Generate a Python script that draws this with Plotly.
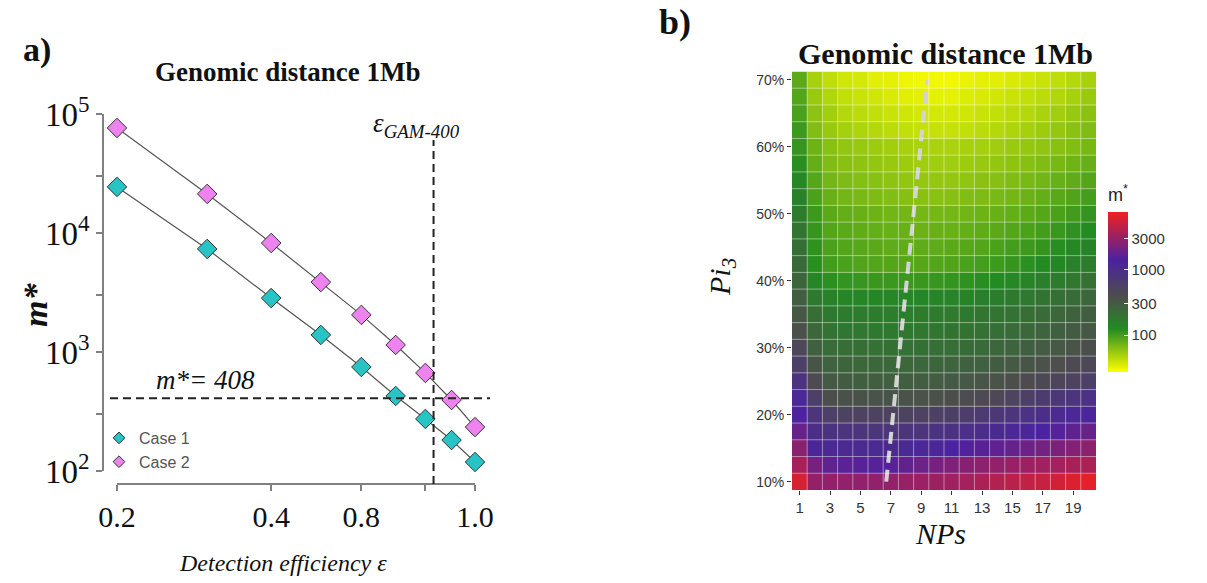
import math
import plotly.graph_objects as go

W, H = 1207, 583

# ---------------- Panel a data ----------------
efficiency = [0.2, 0.3, 0.4, 0.5, 0.6, 0.7, 0.8, 0.9, 1.0]
case1_m = [24400, 7350, 2840, 1390, 748, 427, 274, 182, 119]
case2_m = [76300, 21300, 8240, 3870, 2050, 1146, 667, 395, 234]
eps_gam = 0.83
m_star = 408

x_tickvals = [0.2, 0.4, 0.6, 0.8, 1.0]
x_ticktext = ["0.2", "0.4", "0.8", "", "1.0"]
y_tickvals = [100, 300, 1000, 3000, 10000, 30000, 100000]
y_ticktext = ["10<sup>2</sup>", "", "10<sup>3</sup>", "", "10<sup>4</sup>", "", "10<sup>5</sup>"]

# ---------------- Panel b data ----------------
nps = list(range(1, 21))
pi3 = [0.100, 0.125, 0.150, 0.175, 0.200, 0.225, 0.250, 0.275, 0.300, 0.325,
       0.350, 0.375, 0.400, 0.425, 0.450, 0.475, 0.500, 0.525, 0.550, 0.575,
       0.600, 0.625, 0.650, 0.675, 0.700]
m_grid = [
    [6000, 3000, 2950, 2900, 2900, 2900, 2950, 3050, 3150, 3250, 3350, 3500, 3800, 4100, 4400, 4700, 5000, 5600, 6200, 6800],
    [3600, 2200, 1750, 1650, 1600, 1580, 1600, 1800, 2000, 2200, 2400, 2600, 2750, 2900, 3050, 3200, 3350, 3500, 3650, 3800],
    [2700, 1250, 1150, 1120, 1100, 1100, 1110, 1150, 1200, 1280, 1380, 1500, 1620, 1750, 1880, 2000, 2150, 2350, 2550, 2750],
    [1900, 1000, 850, 820, 800, 790, 790, 800, 820, 850, 900, 960, 1030, 1110, 1200, 1300, 1420, 1560, 1720, 1900],
    [1450, 800, 580, 550, 535, 528, 527, 532, 545, 565, 595, 635, 685, 745, 815, 895, 990, 1100, 1200, 1300],
    [1200, 600, 390, 370, 360, 355, 354, 357, 364, 376, 392, 413, 440, 472, 520, 580, 650, 730, 820, 920],
    [850, 420, 315, 300, 292, 288, 287, 289, 294, 302, 313, 327, 344, 365, 390, 420, 455, 495, 540, 590],
    [600, 340, 265, 253, 247, 244, 243, 245, 249, 255, 263, 273, 285, 300, 318, 340, 365, 393, 425, 460],
    [480, 275, 225, 215, 210, 207, 206, 207, 210, 214, 220, 228, 238, 250, 265, 283, 303, 326, 352, 380],
    [375, 245, 200, 192, 187, 184, 183, 184, 186, 190, 195, 201, 209, 219, 231, 246, 263, 283, 306, 332],
    [330, 215, 180, 172, 167, 165, 164, 164, 166, 169, 173, 178, 185, 193, 203, 215, 230, 247, 267, 290],
    [290, 180, 150, 143, 139, 137, 136, 136, 137, 140, 144, 149, 155, 162, 171, 182, 195, 210, 228, 250],
    [255, 140, 118, 112, 109, 107, 106, 106, 107, 109, 112, 116, 121, 127, 135, 144, 155, 168, 183, 200],
    [235, 120, 100, 95, 92, 90, 89, 88, 88, 90, 92, 95, 99, 104, 110, 118, 127, 138, 152, 168],
    [210, 115, 95, 90, 87, 85, 83, 82, 82, 83, 85, 87, 90, 94, 99, 105, 112, 121, 132, 145],
    [190, 110, 90, 85, 82, 80, 78, 77, 76, 77, 78, 80, 82, 85, 89, 94, 100, 107, 116, 127],
    [170, 105, 85, 80, 77, 75, 73, 72, 71, 71, 72, 73, 75, 77, 80, 84, 88, 94, 102, 112],
    [150, 95, 78, 72, 69, 67, 65, 63, 62, 62, 63, 65, 67, 69, 72, 76, 80, 86, 92, 99],
    [135, 88, 72, 67, 64, 62, 60, 58, 57, 57, 57, 59, 61, 63, 66, 69, 73, 78, 83, 89],
    [120, 80, 66, 62, 60, 58, 56, 54, 53, 53, 53, 54, 56, 58, 60, 63, 66, 70, 74, 79],
    [110, 75, 62, 58, 56, 54, 52, 50, 49, 49, 49, 50, 51, 53, 55, 57, 59, 62, 65, 70],
    [105, 65, 56, 51, 48, 46, 44, 42, 41, 41, 41, 42, 44, 46, 48, 51, 54, 57, 61, 66],
    [95, 60, 52, 46, 44, 42, 40, 38, 37, 37, 37, 38, 40, 42, 44, 46, 49, 52, 56, 61],
    [90, 55, 47, 42, 40, 38, 36, 34, 33, 33, 33, 35, 36, 38, 40, 42, 44, 47, 50, 55],
    [85, 50, 43, 38, 37, 34, 33, 31, 30, 30, 30, 32, 33, 34, 36, 38, 40, 43, 46, 50],
]
pi3_ticks = [0.1, 0.2, 0.3, 0.4, 0.5, 0.6, 0.7]
pi3_ticktext = ["10%", "20%", "30%", "40%", "50%", "60%", "70%"]
nps_ticks = [1, 3, 5, 7, 9, 11, 13, 15, 17, 19]
cbar_vals = [100, 300, 1000, 3000]
m_min, m_max = 27.5, 7700
divider_nps = [6.7, 9.4]
divider_pi3 = [0.10, 0.70]


def px(x):
    return x / W


def py(y):
    return 1 - y / H


SERIF = "Liberation Serif, Times New Roman, serif"
SANS = "Liberation Sans, Arial, sans-serif"
CYAN = "#26C4C4"
VIOLET = "#EE82EE"

fig = go.Figure()

# Panel a traces
for name, vals, col in [("Case 1", case1_m, CYAN), ("Case 2", case2_m, VIOLET)]:
    fig.add_trace(go.Scatter(
        x=efficiency, y=vals, mode="lines+markers", name=name,
        line=dict(color="#555555", width=1.2),
        marker=dict(symbol="diamond", size=15, color=col,
                    line=dict(color="#333333", width=1)),
        cliponaxis=False, showlegend=False, xaxis="x", yaxis="y"))
    fig.add_trace(go.Scatter(
        x=[None], y=[None], mode="markers", name=name,
        marker=dict(symbol="diamond", size=9, color=col,
                    line=dict(color="#333333", width=1)),
        showlegend=True, xaxis="x", yaxis="y"))

# Panel b heatmap
z_log = [[math.log10(v) for v in row] for row in m_grid]
colorscale = [
    [0.0, "#FFFF00"],
    [0.27, "#228B22"],
    [0.474, "#4D4D4D"],
    [0.70, "#4B22A0"],
    [1.0, "#F02020"],
]
fig.add_trace(go.Heatmap(
    x=nps, y=pi3, z=z_log, colorscale=colorscale,
    zmin=math.log10(m_min), zmax=math.log10(m_max),
    xaxis="x2", yaxis="y2",
    colorbar=dict(
        x=px(1108), xanchor="left", y=py(372), yanchor="bottom",
        len=188, lenmode="pixels", thickness=20, thicknessmode="pixels",
        outlinewidth=0, xpad=0, ypad=0,
        tickvals=[math.log10(v) for v in cbar_vals],
        ticktext=[str(v) for v in cbar_vals],
        ticks="inside", ticklen=4, tickcolor="white",
        tickfont=dict(family=SANS, size=15, color="#333333"),
        title=dict(text="m<sup>*</sup>", side="top",
                   font=dict(family=SANS, size=18, color="#222222")),
    ),
    showscale=True,
))
fig.add_trace(go.Scatter(
    x=divider_nps, y=divider_pi3, mode="lines",
    line=dict(color="#D3D3D3", width=4, dash="12px,7px"),
    showlegend=False, xaxis="x2", yaxis="y2"))

# light cell-boundary grid over the heatmap
grid_shapes = []
for n in nps[:-1]:
    grid_shapes.append(dict(type="line", xref="x2", yref="y2", x0=n + 0.5, x1=n + 0.5,
                            y0=0.0875, y1=0.7125, layer="above",
                            line=dict(color="rgba(255,255,255,0.45)", width=1)))
for i in range(len(pi3) - 1):
    yb = (pi3[i] + pi3[i + 1]) / 2
    grid_shapes.append(dict(type="line", xref="x2", yref="y2", x0=0.5, x1=20.5,
                            y0=yb, y1=yb, layer="above",
                            line=dict(color="rgba(255,255,255,0.45)", width=1)))

fig.update_layout(
    width=W, height=H,
    margin=dict(l=0, r=0, t=0, b=0, autoexpand=False),
    paper_bgcolor="white", plot_bgcolor="white",
    showlegend=True,
    legend=dict(x=px(99), y=py(421), xanchor="left", yanchor="top",
                font=dict(family=SANS, size=16, color="#555555"),
                bgcolor="rgba(0,0,0,0)", tracegroupgap=0),
    xaxis=dict(type="log", domain=[px(117), px(475)],
               range=[math.log10(0.2), math.log10(1.0)],
               anchor="free", position=py(484),
               showline=True, linecolor="#808080", linewidth=1.5,
               ticks="outside", ticklen=6, tickcolor="#808080", tickwidth=1.5,
               tickvals=x_tickvals, ticktext=x_ticktext,
               tickfont=dict(family=SERIF, size=30, color="#111111"),
               ticklabelstandoff=0,
               showgrid=False, zeroline=False),
    yaxis=dict(type="log", domain=[py(471), py(114)], range=[2, 5],
               anchor="free", position=px(103),
               showline=True, linecolor="#808080", linewidth=1.5,
               ticks="outside", ticklen=6, tickcolor="#808080", tickwidth=1.5,
               tickvals=y_tickvals, ticktext=y_ticktext,
               tickfont=dict(family=SERIF, size=33, color="#111111"),
               showgrid=False, zeroline=False),
    xaxis2=dict(domain=[px(792), px(1096)], range=[0.5, 20.5], anchor="y2",
                tickvals=nps_ticks, ticks="outside", ticklen=4,
                tickcolor="#333333",
                tickfont=dict(family=SANS, size=15, color="#333333"),
                showgrid=False, zeroline=False, showline=False),
    yaxis2=dict(domain=[py(490), py(71.5)], range=[0.0875, 0.7125], anchor="x2",
                tickvals=pi3_ticks, ticktext=pi3_ticktext, ticks="outside",
                ticklen=4, tickcolor="#333333",
                tickfont=dict(family=SANS, size=14, color="#333333"),
                showgrid=False, zeroline=False, showline=False),
    shapes=[
        dict(type="line", xref="x", yref="paper", x0=eps_gam, x1=eps_gam,
             y0=py(484), y1=py(140),
             line=dict(color="#222222", width=2, dash="8px,5px")),
        dict(type="line", xref="paper", yref="y", x0=px(110), x1=px(490),
             y0=m_star, y1=m_star,
             line=dict(color="#222222", width=2, dash="8px,5px")),
    ] + grid_shapes,
)

ann = [
    dict(text="<b>a)</b>", x=px(37), y=py(50), font=dict(family=SERIF, size=34, color="#111")),
    dict(text="<b>b)</b>", x=px(675), y=py(22), font=dict(family=SERIF, size=36, color="#111")),
    dict(text="<b>Genomic distance 1Mb</b>", x=px(287), y=py(72), font=dict(family=SERIF, size=27, color="#111")),
    dict(text="<b>Genomic distance 1Mb</b>", x=px(945), y=py(53), font=dict(family=SERIF, size=30, color="#111")),
    dict(text="<i>Detection efficiency ε</i>", x=px(283), y=py(563), font=dict(family=SERIF, size=24, color="#111")),
    dict(text="<b><i>m*</i></b>", x=px(35), y=py(305), textangle=-90, font=dict(family=SERIF, size=34, color="#111")),
    dict(text="<i>m*= " + str(m_star) + "</i>", x=px(205), y=py(380), font=dict(family=SERIF, size=27, color="#111")),
    dict(text="<i>ε<sub>GAM-400</sub></i>", x=px(416), y=py(125), font=dict(family=SERIF, size=27, color="#111")),
    dict(text="<i>NPs</i>", x=px(940), y=py(533), font=dict(family=SERIF, size=30, color="#111")),
    dict(text="<i>Pi<sub>3</sub></i>", x=px(722), y=py(277), textangle=-90, font=dict(family=SERIF, size=30, color="#111")),
]
for a in ann:
    a.update(xref="paper", yref="paper", showarrow=False, xanchor="center", yanchor="middle")
fig.update_layout(annotations=ann)

fig.write_html("out.html")
